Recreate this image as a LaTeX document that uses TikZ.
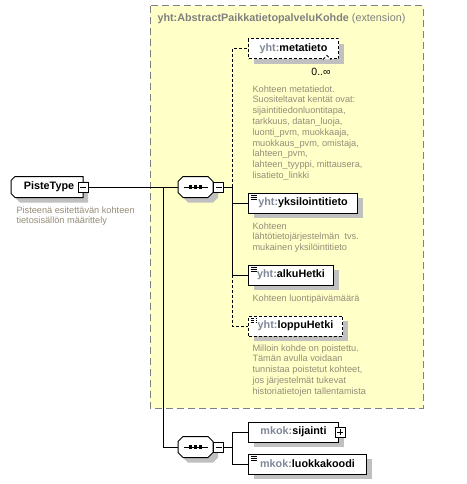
\documentclass[tikz,border=0pt]{standalone}
\usepackage{fontspec}
\setmainfont{Liberation Sans}
\usetikzlibrary{shadows,backgrounds}

\definecolor{extfill}{RGB}{255,255,200}
\definecolor{extline}{RGB}{128,128,128}
\definecolor{nsgray}{RGB}{128,136,152}
\definecolor{docgray}{RGB}{150,140,120}
\definecolor{shadowgray}{RGB}{192,192,192}

\newcommand{\qn}[2]{\textcolor{nsgray}{#1:}#2}
% outline with cut corners: node, left cut, right cut
\newcommand{\cutbox}[3]{([xshift=#2]#1.north west) -- ([xshift=-#3]#1.north east)
   -- ([yshift=-#3]#1.north east) -- ([yshift=#3]#1.south east) -- ([xshift=-#3]#1.south east)
   -- ([xshift=#2]#1.south west) -- ([yshift=#2]#1.south west) -- ([yshift=-#2]#1.north west) -- cycle}

\tikzset{
  lbl/.style={font=\fontsize{10.8}{12}\selectfont\bfseries},
  doc/.style={font=\fontsize{9.2}{10.8}\selectfont, text=docgray, align=left, anchor=north west, inner sep=0pt},
  shadowed/.style={drop shadow={shadow xshift=5pt, shadow yshift=-5pt, fill=shadowgray, opacity=1}},
  elem/.style={draw, fill=white, line width=1pt, minimum height=20pt, inner xsep=2pt, inner ysep=0pt, anchor=west, lbl, shadowed},
  optional/.style={dash pattern=on 3pt off 2pt},
  simple/.style={path picture={%
    \foreach \k in {2,4,6}
      \draw[line width=0.8pt] ([xshift=2pt,yshift=-\k pt]path picture bounding box.north west) -- ++(6pt,0);}},
  ctype/.style={lbl, minimum width=71pt, minimum height=20pt, inner sep=0pt, anchor=west},
  seqnode/.style={minimum width=34pt, minimum height=20pt, inner sep=0pt, anchor=west},
  outline/.style={draw, fill=white, line width=1pt},
  shadowpath/.style={fill=shadowgray, transform canvas={xshift=5pt, yshift=-5pt}},
  minusbox/.style={draw, fill=white, line width=1pt, minimum size=10pt, inner sep=0pt,
    path picture={\draw[line width=1pt] ([xshift=2pt]path picture bounding box.west) -- ([xshift=-2pt]path picture bounding box.east);}},
  plusbox/.style={draw, fill=white, line width=1pt, minimum size=10pt, inner sep=0pt,
    path picture={\draw[line width=1pt] ([xshift=2pt]path picture bounding box.west) -- ([xshift=-2pt]path picture bounding box.east);
      \draw[line width=1pt] ([yshift=-2pt]path picture bounding box.north) -- ([yshift=2pt]path picture bounding box.south);}},
  extbox/.style={fill=extfill, draw=extline, line width=1pt, dash pattern=on 7pt off 4pt},
}

\begin{document}
\begin{tikzpicture}[x=1pt,y=-1pt,line width=1pt]
   \useasboundingbox (0,0) rectangle (466,484);

   % complex type
   \node[ctype] (piste) at (11,187) {\hspace{4pt}PisteType};
   \node[minusbox] (pisteM) at (piste.east) {};
   \node[doc] (pisteDoc) at (16,206) {Pisteenä esitettävän kohteen\\tietosisällön määrittely};

   % sequences
   \node[seqnode] (seqA) at (178,187) {};
   \node[minusbox, anchor=west] (seqAM) at (seqA.east) {};
   \node[seqnode] (seqB) at (178,447) {};
   \node[minusbox, anchor=west] (seqBM) at (seqB.east) {};

   \begin{scope}[on background layer]
      \fill[white] (0,0) rectangle (466,484);
      \draw[extbox] (150,6) rectangle (423,408);
      \fill[shadowpath] \cutbox{piste}{4pt}{0pt};
      \draw[outline] \cutbox{piste}{4pt}{0pt};
      \foreach \s in {seqA,seqB} {
         \fill[shadowpath] \cutbox{\s}{5pt}{5pt};
         \draw[outline] \cutbox{\s}{5pt}{5pt};
         \draw ([xshift=-12pt]\s.center) -- ([xshift=12pt]\s.center);
         \foreach \d in {-5,0,5}
            \fill ([xshift=\d pt]\s.center) +(-1.6,-1.6) rectangle +(1.6,1.6);
      }
   \end{scope}

   % extension base
   \node[anchor=west, inner sep=0pt, lbl, text=extline] (extTitle) at (157,19)
      {yht:AbstractPaikkatietopalveluKohde\mdseries\ (extension)};

   % elements of the base
   \node[elem, optional, minimum width=90pt] (meta) at (248,49) {\qn{yht}{metatieto}};
   \draw[optional, fill=white] ([xshift=-16pt]meta.south east) -- ++(4pt,4pt) -- ++(4pt,-4pt);
   \node[font=\fontsize{10.5}{12}\selectfont, inner sep=0pt] (metaOcc) at (321,72) {0..∞};
   \node[doc] (metaDoc) at (252,85) {Kohteen metatiedot.\\Suositeltavat kentät ovat:\\sijaintitiedonluontitapa,\\tarkkuus, datan\_luoja,\\luonti\_pvm, muokkaaja,\\muokkaus\_pvm, omistaja,\\lahteen\_pvm,\\lahteen\_tyyppi, mittausera,\\lisatieto\_linkki};

   \node[elem, simple, minimum width=109pt] (yks) at (248,203) {\qn{yht}{yksilointitieto}};
   \node[doc] (yksDoc) at (252,222) {Kohteen\\lähtötietojärjestelmän\ \ tvs.\\mukainen yksilöintitieto};

   \node[elem, simple, minimum width=85pt] (alku) at (248,275) {\qn{yht}{alkuHetki}};
   \node[doc] (alkuDoc) at (252,294) {Kohteen luontipäivämäärä};

   \node[elem, simple, optional, minimum width=94pt] (loppu) at (248,326) {\qn{yht}{loppuHetki}};
   \node[doc] (loppuDoc) at (252,344) {Milloin kohde on poistettu.\\Tämän avulla voidaan\\tunnistaa poistetut kohteet,\\jos järjestelmät tukevat\\historiatietojen tallentamista};

   % own elements
   \node[elem, minimum width=90pt] (sij) at (248,432) {\qn{mkok}{sijainti}\hspace{6pt}};
   \node[plusbox] (sijP) at ([xshift=1pt]sij.east) {};
   \node[elem, simple, minimum width=118pt] (luok) at (248,464) {\qn{mkok}{luokkakoodi}};

   % connectors
   \coordinate (jA) at (163,187);
   \coordinate (bA) at (232,187);
   \coordinate (bB) at (232,447);

   \draw (pisteM) -- (seqA);
   \draw (jA) |- (seqB);
   \draw (seqAM) -- (bA);
   \draw[optional] (bA) |- (meta);
   \draw (bA) |- (yks);
   \draw (bA) |- (alku);
   \draw[optional] (alku.west -| bA) |- (loppu);
   \draw (seqBM) -- (bB);
   \draw (bB) |- (sij);
   \draw (bB) |- (luok);
\end{tikzpicture}
\end{document}
